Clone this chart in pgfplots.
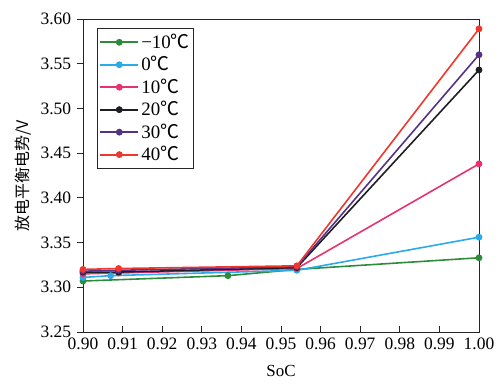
\documentclass[border=0pt]{standalone}
\usepackage{pgfplots}
\pgfplotsset{compat=1.18}
\usepackage{fontspec}
\setmainfont{Liberation Serif}
\newfontfamily\cjk{Noto Sans CJK SC}
\definecolor{cgreen}{RGB}{45,140,60}
\definecolor{cblue}{RGB}{40,170,235}
\definecolor{cpink}{RGB}{232,50,110}
\definecolor{cblack}{RGB}{30,30,35}
\definecolor{cpurple}{RGB}{85,50,135}
\definecolor{cred}{RGB}{240,55,45}
\begin{document}
\fontsize{17}{20}\selectfont
\begin{tikzpicture}
\begin{axis}[
  scale only axis,
  width=396bp, height=313bp,
  xmin=0.90, xmax=1.00, ymin=3.25, ymax=3.60,
  xtick={0.90,0.91,0.92,0.93,0.94,0.95,0.96,0.97,0.98,0.99,1.00},
  xticklabels={0.90,0.91,0.92,0.93,0.94,0.95,0.96,0.97,0.98,0.99,1.00},
  ytick={3.25,3.30,3.35,3.40,3.45,3.50,3.55,3.60},
  yticklabels={3.25,3.30,3.35,3.40,3.45,3.50,3.55,3.60},
  tick label style={font=\rmfamily\fontsize{17.5}{20}\selectfont},
  xtick pos=bottom, ytick pos=left,
  xtick align=inside, ytick align=outside,
  major tick length=6bp,
  axis line style={line width=1pt, black!85},
  tick style={line width=0.9pt, black!85},
  xlabel={SoC},
  ylabel={\cjk 放电平衡电势/V},
  xlabel style={font=\fontsize{17}{20}\selectfont, yshift=-4bp},
  ylabel style={font=\fontsize{16}{20}\selectfont, yshift=-2bp},
  legend style={at={(0.035,0.97)}, anchor=north west, draw=black!85, line width=0.8pt,
    font=\fontsize{19}{20}\selectfont, row sep=1.5bp, inner xsep=2bp, inner ysep=3bp,
    /tikz/every even column/.append style={column sep=4bp}},
  legend cell align=left,
  legend image code/.code={
    \draw[#1, line width=1.8pt] (0cm,0cm) -- (1.35cm,0cm);
    \draw[#1, line width=1.6pt, mark repeat=1] plot coordinates {(0.675cm,0cm)};
  },
  every axis plot/.append style={line width=1.6pt, mark=*, mark size=2.6pt},
]
\addplot[color=cgreen, mark options={fill=cgreen}] coordinates {(0.90,3.307) (0.9366,3.313) (0.954,3.320) (1.00,3.333)};
\addlegendentry{−10{\cjk ℃}}
\addplot[color=cblue, mark options={fill=cblue}] coordinates {(0.90,3.311) (0.907,3.313) (0.954,3.319) (1.00,3.356)};
\addlegendentry{0{\cjk ℃}}
\addplot[color=cpink, mark options={fill=cpink}] coordinates {(0.90,3.315) (0.909,3.316) (0.954,3.321) (1.00,3.438)};
\addlegendentry{10{\cjk ℃}}
\addplot[color=cblack, mark options={fill=cblack}] coordinates {(0.90,3.317) (0.909,3.317) (0.954,3.322) (1.00,3.543)};
\addlegendentry{20{\cjk ℃}}
\addplot[color=cpurple, mark options={fill=cpurple}] coordinates {(0.90,3.318) (0.909,3.319) (0.954,3.323) (1.00,3.560)};
\addlegendentry{30{\cjk ℃}}
\addplot[color=cred, mark options={fill=cred}] coordinates {(0.90,3.320) (0.909,3.321) (0.954,3.324) (1.00,3.589)};
\addlegendentry{40{\cjk ℃}}
\end{axis}
\pgfresetboundingbox
\path (-83bp,-57bp) rectangle (416bp,332bp);
\end{tikzpicture}
\end{document}
